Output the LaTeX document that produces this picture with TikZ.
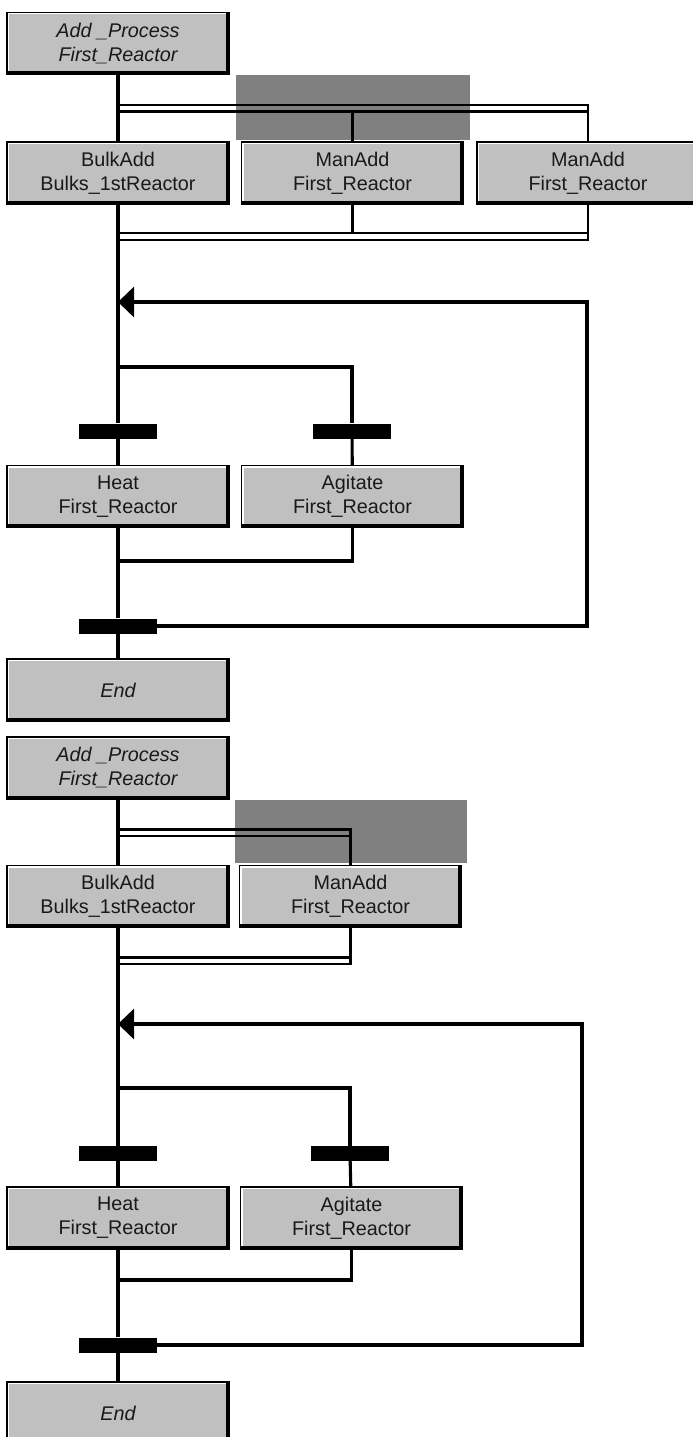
\documentclass[tikz,border=0pt]{standalone}
\usepackage{fontspec}
\setmainfont{Liberation Sans}
\usetikzlibrary{arrows.meta, positioning}
\definecolor{boxgray}{HTML}{C0C0C0}
\definecolor{shadegray}{HTML}{808080}

\begin{document}
\begin{tikzpicture}[x=1pt, y=-1pt,
  stepbox/.style={draw=black, line width=1.2, fill=boxgray, inner sep=0pt,
              minimum width=222pt, minimum height=62pt, align=center,
              text=black!90, font=\fontsize{19.8}{24}\selectfont,
              path picture={
                \draw[white, line width=4] (path picture bounding box.south west)
                  |- (path picture bounding box.north east);
                \draw[black, line width=7] (path picture bounding box.south west)
                  -| (path picture bounding box.north east);}},
  trbar/.style={fill=black, inner sep=0pt, minimum width=78pt, minimum height=15pt},
  flow/.style={line width=3.1, black},
  dbl/.style={line width=2.5, black},
  back/.style={flow, -{Triangle[length=16pt, width=30pt]}}
]
\clip (0,0) rectangle (693,1437);
% ---------- upper chart ----------
\fill[shadegray] (236,75) rectangle (470,140);
\node[stepbox] (addA) at (118,43.5) {\itshape Add \_Process\\\itshape First\_Reactor};
\node[stepbox] (bulkA) at (118,173) {BulkAdd\\Bulks\_1stReactor};
\node[stepbox] (manA1) at (352.5,173) {ManAdd\\First\_Reactor};
\node[stepbox] (manA2) at (588,173) {ManAdd\\First\_Reactor};
\node[trbar] (trA1) at (118,431) {};
\node[trbar] (trA2) at (352,431) {};
\node[stepbox] (heatA) at (118,496.5) {Heat\\First\_Reactor};
\node[stepbox] (agitA) at (352.5,496.5) {Agitate\\First\_Reactor};
\node[trbar] (trA3) at (118,626) {};
\node[stepbox] (endA) at (118,690) {\itshape End};
% simultaneous split / join
\coordinate (spA) at (118,105);
\coordinate (spAi) at (118,111.5);
\coordinate (jnA) at (118,240);
\coordinate (jnAi) at (118,233);
\draw[dbl] (spA) -| (manA2.north);
\draw[dbl] (spAi) -- (spAi -| manA2.north);
\draw[dbl] (spAi -| manA1.north) -- (manA1.north);
\draw[dbl] (manA2.south) |- (jnA);
\draw[dbl] (jnAi) -- (jnAi -| manA2.south);
\draw[dbl] (manA1.south) |- (jnAi);
% main line
\draw[flow] (addA) -- (bulkA);
\draw[flow] (bulkA) -- (trA1);
\draw[flow] (trA1) -- (heatA);
\draw[flow] (heatA) -- (trA3);
\draw[flow] (trA3) -- (endA);
% branch, join and loop back
\coordinate (brA) at (118,367);
\coordinate (jA) at (118,561);
\coordinate (lpA) at (587,302);
\draw[flow] (brA) -| (trA2.north);
\draw[flow] (trA2) -- (agitA);
\draw[flow] (agitA.south) |- (jA);
\draw[back] (trA3.east) -| (lpA) -- (lpA -| bulkA.south);
% ---------- lower chart ----------
\fill[shadegray] (235,800) rectangle (467,863);
\node[stepbox] (addB) at (118,768) {\itshape Add \_Process\\\itshape First\_Reactor};
\node[stepbox] (bulkB) at (118,896.5) {BulkAdd\\Bulks\_1stReactor};
\node[stepbox] (manB) at (350.5,896.5) {ManAdd\\First\_Reactor};
\node[trbar] (trB1) at (118,1153.5) {};
\node[trbar] (trB2) at (350,1153.5) {};
\node[stepbox] (heatB) at (118,1218) {Heat\\First\_Reactor};
\node[stepbox] (agitB) at (351.5,1218) {Agitate\\First\_Reactor};
\node[trbar] (trB3) at (118,1345) {};
\node[stepbox] (endB) at (118,1413) {\itshape End};
% simultaneous split / join
\coordinate (spB) at (118,829.5);
\coordinate (spBi) at (118,836);
\coordinate (jnB) at (118,964);
\coordinate (jnBi) at (118,957.5);
\draw[dbl] (spB) -| (manB.north);
\draw[dbl] (spBi) -- (spBi -| manB.north);
\draw[dbl] (manB.south) |- (jnB);
\draw[dbl] (jnBi) -- (jnBi -| manB.south);
% main line
\draw[flow] (addB) -- (bulkB);
\draw[flow] (bulkB) -- (trB1);
\draw[flow] (trB1) -- (heatB);
\draw[flow] (heatB) -- (trB3);
\draw[flow] (trB3) -- (endB);
% branch, join and loop back
\coordinate (brB) at (118,1088);
\coordinate (jB) at (118,1280);
\coordinate (lpB) at (582,1024);
\draw[flow] (brB) -| (trB2.north);
\draw[flow] (trB2) -- (agitB);
\draw[flow] (agitB.south) |- (jB);
\draw[back] (trB3.east) -| (lpB) -- (lpB -| bulkB.south);
\end{tikzpicture}
\end{document}
